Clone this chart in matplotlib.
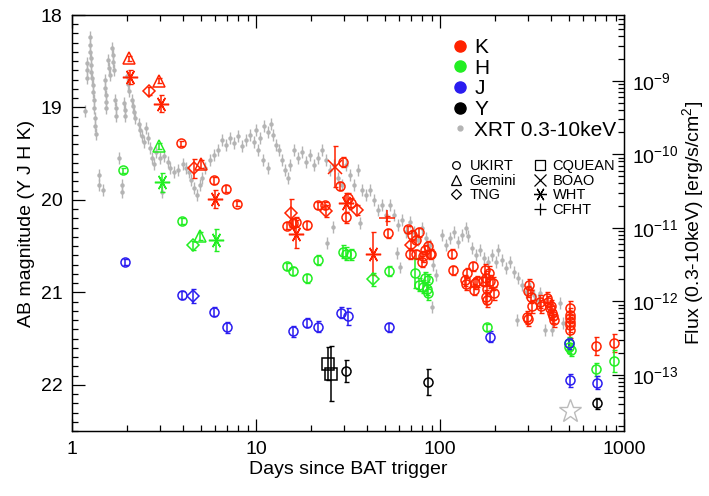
import numpy as np
import matplotlib
matplotlib.use("Agg")
import matplotlib.pyplot as plt
from matplotlib.lines import Line2D
from matplotlib.ticker import MultipleLocator, LogLocator, NullFormatter, FixedLocator

plt.rcParams['font.family'] = ['Liberation Sans', 'DejaVu Sans']
plt.rcParams['mathtext.default'] = 'regular'

# --- NIR photometry (days since trigger, AB mag, error, instrument) ---
K_days = [2.04, 2.07, 2.63, 2.97, 3.05, 3.93, 4.6, 5.0, 5.91, 6.01, 6.84, 7.91,
          14.8, 15.4, 15.8, 16.4, 16.4, 18.9, 21.6, 23.8, 24.1, 26.8, 28.5, 29.7,
          30.7, 30.9, 31.6, 32.7, 35.3, 43.4, 51.7, 52.0,
          67.3, 70.5, 77, 74, 70, 69, 73.9, 80, 86, 83, 88, 89.5, 81,
          116, 118, 137, 141, 139, 150.5, 154, 158, 153, 176, 178, 181, 178, 179,
          184, 187, 194, 197, 171,
          305, 300, 311, 318, 298, 302, 349, 352, 380, 388, 400, 408, 412, 415, 397,
          509, 509, 509, 509, 509, 509, 705, 886]
K_mag = [18.47, 18.67, 18.82, 18.71, 18.96, 19.39, 19.66, 19.61, 19.79, 19.99, 19.88, 20.04,
         20.28, 20.14, 20.25, 20.24, 20.37, 20.27, 20.06, 20.06, 20.12, 19.64, 19.85, 19.59,
         20.03, 20.19, 19.98, 20.03, 20.11, 20.58, 20.20, 20.36,
         20.32, 20.38, 20.35, 20.43, 20.49, 20.58, 20.59, 20.67, 20.50, 20.54, 20.59, 20.58, 20.61,
         20.58, 20.76, 20.87, 20.79, 20.91, 20.72, 20.90, 20.88, 20.97, 20.76, 20.85, 20.96, 21.05, 21.08,
         20.79, 20.88, 20.90, 21.01, 20.88,
         20.92, 20.99, 21.05, 21.15, 21.27, 21.29, 21.10, 21.15, 21.06, 21.10, 21.15, 21.22, 21.26, 21.30, 21.17,
         21.17, 21.25, 21.28, 21.35, 21.41, 21.32, 21.58, 21.55]
K_err = [0.03, 0.08, 0.04, 0.03, 0.09, 0.03, 0.10, 0.04, 0.04, 0.10, 0.04, 0.03,
         0.04, 0.15, 0.05, 0.05, 0.15, 0.04, 0.04, 0.04, 0.07, 0.22, 0.04, 0.05,
         0.10, 0.06, 0.05, 0.05, 0.05, 0.23, 0.03, 0.05,
         0.04, 0.05, 0.05, 0.05, 0.05, 0.06, 0.05, 0.06, 0.05, 0.05, 0.05, 0.05, 0.06,
         0.05, 0.05, 0.06, 0.05, 0.06, 0.05, 0.06, 0.06, 0.06, 0.07, 0.08, 0.08, 0.08, 0.08,
         0.07, 0.07, 0.07, 0.07, 0.05,
         0.06, 0.06, 0.07, 0.07, 0.07, 0.07, 0.07, 0.07, 0.06, 0.06, 0.07, 0.07, 0.07, 0.07, 0.07,
         0.08, 0.08, 0.08, 0.08, 0.08, 0.08, 0.10, 0.10]
K_inst = ['Gemini', 'WHT', 'TNG', 'Gemini', 'WHT', 'UKIRT', 'TNG', 'Gemini', 'UKIRT', 'WHT', 'UKIRT', 'UKIRT',
          'UKIRT', 'TNG', 'UKIRT', 'UKIRT', 'WHT', 'UKIRT', 'UKIRT', 'UKIRT', 'TNG', 'BOAO', 'UKIRT', 'UKIRT',
          'WHT', 'UKIRT', 'UKIRT', 'UKIRT', 'TNG', 'WHT', 'CFHT', 'UKIRT',
          'UKIRT', 'UKIRT', 'UKIRT', 'UKIRT', 'TNG', 'UKIRT', 'UKIRT', 'UKIRT', 'UKIRT', 'UKIRT', 'UKIRT', 'UKIRT', 'UKIRT',
          'UKIRT', 'UKIRT', 'UKIRT', 'UKIRT', 'UKIRT', 'UKIRT', 'UKIRT', 'UKIRT', 'UKIRT', 'UKIRT', 'UKIRT', 'UKIRT', 'UKIRT', 'UKIRT',
          'UKIRT', 'UKIRT', 'UKIRT', 'UKIRT', 'UKIRT',
          'UKIRT', 'UKIRT', 'UKIRT', 'UKIRT', 'UKIRT', 'UKIRT', 'UKIRT', 'UKIRT', 'UKIRT', 'UKIRT', 'UKIRT', 'UKIRT', 'UKIRT', 'UKIRT', 'UKIRT',
          'UKIRT', 'UKIRT', 'UKIRT', 'UKIRT', 'UKIRT', 'UKIRT', 'UKIRT', 'UKIRT']

H_days = [1.90, 2.98, 3.10, 3.96, 4.97, 4.56, 6.09, 14.8, 15.8, 18.9, 21.7, 29.8, 30.9, 32.7,
          43.3, 52.5, 73, 77, 83, 85.6, 84.5, 86.5, 81, 181, 505, 515, 505, 705, 886]
H_mag = [19.68, 19.42, 19.81, 20.23, 20.39, 20.49, 20.43, 20.72, 20.77, 20.85, 20.65, 20.56, 20.58, 20.59,
         20.86, 20.77, 20.79, 20.92, 20.85, 20.87, 20.96, 21.01, 20.94, 21.38, 21.55, 21.62, 21.59, 21.83, 21.74]
H_err = [0.03, 0.03, 0.10, 0.03, 0.04, 0.05, 0.12, 0.04, 0.04, 0.05, 0.05, 0.07, 0.07, 0.06,
         0.07, 0.05, 0.16, 0.07, 0.07, 0.07, 0.07, 0.07, 0.07, 0.04, 0.07, 0.07, 0.07, 0.07, 0.12]
H_inst = ['UKIRT', 'Gemini', 'WHT', 'UKIRT', 'Gemini', 'TNG', 'WHT', 'UKIRT', 'UKIRT', 'UKIRT', 'UKIRT',
          'UKIRT', 'UKIRT', 'UKIRT', 'TNG', 'UKIRT', 'UKIRT', 'UKIRT', 'UKIRT', 'UKIRT', 'UKIRT', 'UKIRT',
          'UKIRT', 'UKIRT', 'UKIRT', 'UKIRT', 'UKIRT', 'UKIRT', 'UKIRT']

J_days = [1.94, 3.96, 4.54, 5.94, 6.93, 15.8, 18.9, 21.7, 28.8, 31.7, 52.7, 186, 505, 509, 710]
J_mag = [20.67, 21.03, 21.04, 21.21, 21.38, 21.42, 21.33, 21.37, 21.22, 21.26, 21.38, 21.48, 21.55, 21.95, 21.98]
J_err = [0.03, 0.04, 0.08, 0.05, 0.06, 0.06, 0.05, 0.06, 0.06, 0.09, 0.05, 0.06, 0.06, 0.07, 0.07]
J_inst = ['UKIRT', 'UKIRT', 'TNG', 'UKIRT', 'UKIRT', 'UKIRT', 'UKIRT', 'UKIRT', 'UKIRT', 'UKIRT',
          'UKIRT', 'UKIRT', 'UKIRT', 'UKIRT', 'UKIRT']

Y_days = [24.7, 25.6, 30.8, 85.6, 710]
Y_mag = [21.77, 21.88, 21.85, 21.97, 22.20]
Y_err = [0.18, 0.30, 0.12, 0.14, 0.06]
Y_inst = ['CQUEAN', 'CQUEAN', 'UKIRT', 'UKIRT', 'UKIRT']

# late-time star symbol
star_day = [509]
star_mag = [22.28]

# --- Swift XRT 0.3-10 keV light curve (log10 days, log10 flux) ---
xrt_logt = [0.071, 0.082, 0.082, 0.082, 0.098, 0.098, 0.098, 0.103, 0.103, 0.103, 0.109,
            0.114, 0.114, 0.120, 0.120, 0.125, 0.125, 0.130, 0.147, 0.147, 0.168,
            0.179, 0.179, 0.185, 0.185, 0.185, 0.196, 0.201, 0.207, 0.217, 0.223, 0.223, 0.228,
            0.234, 0.239, 0.239, 0.255, 0.272, 0.272, 0.283, 0.288, 0.288, 0.299, 0.304, 0.310,
            0.326, 0.332, 0.337, 0.342, 0.364, 0.370, 0.380, 0.391,
            0.402, 0.413, 0.424, 0.435, 0.446, 0.457, 0.478, 0.500, 0.522, 0.533, 0.554, 0.576,
            0.603, 0.620, 0.636, 0.647, 0.663, 0.679, 0.696, 0.707, 0.489,
            0.723, 0.750, 0.772, 0.793, 0.815, 0.837, 0.859, 0.880, 0.902, 0.924, 0.946, 0.967, 0.989,
            1.000, 1.022, 1.043, 1.065, 1.082, 1.092, 1.109, 1.011, 1.038, 1.065,
            1.125, 1.141, 1.158, 1.174, 1.185, 1.207, 1.228, 1.250, 1.272, 1.293, 1.315, 1.337,
            1.359, 1.380, 1.402, 1.424, 1.446, 1.467, 1.489, 1.511, 1.533, 1.554, 1.576, 1.598,
            1.386, 1.418, 1.565, 1.620, 1.641, 1.663, 1.685, 1.707, 1.728, 1.750, 1.772, 1.793, 1.815,
            1.766, 1.783, 1.837, 1.859, 1.880, 1.902, 1.924, 1.946, 1.962, 1.978, 1.957,
            2.011, 2.033, 2.054, 2.076, 2.098, 2.120, 2.141, 2.152,
            2.174, 2.196, 2.217, 2.239, 2.261, 2.283, 2.304, 2.315, 2.337, 2.359, 2.380, 2.402,
            2.424, 2.446, 2.467, 2.489, 2.418, 2.511, 2.533, 2.543, 2.571, 2.609, 2.652, 2.668]
xrt_logf = [-9.41, -8.76, -8.85, -8.96, -8.41, -8.51, -8.61, -8.69, -8.79, -8.88, -8.96,
            -9.06, -9.15, -9.26, -9.37, -9.51, -9.62, -9.73, -10.28, -10.42, -10.49,
            -8.99, -9.10, -9.20, -9.29, -9.37, -8.72, -8.83, -8.92, -8.56, -8.65, -8.75, -8.85,
            -9.26, -9.37, -9.48, -10.05, -10.42, -10.51, -9.30, -9.40, -9.48, -8.94, -9.05, -9.14,
            -9.26, -9.34, -9.43, -9.51, -9.59, -9.67, -9.75, -9.83,
            -9.64, -9.78, -9.92, -10.05, -10.13, -9.97, -10.05, -10.02, -10.11, -10.19, -10.24, -10.22,
            -10.13, -10.19, -10.24, -10.35, -10.46, -10.56, -10.42, -10.32, -10.51,
            -10.19, -10.08, -10.01, -9.94, -9.81, -9.87, -9.78, -9.85, -9.75, -9.89, -9.81, -9.74, -9.83,
            -9.67, -9.78, -9.62, -9.70, -9.59, -9.74, -9.87, -9.94, -10.08, -10.19,
            -9.94, -10.08, -10.22, -10.32, -10.15, -9.94, -10.05, -9.97, -10.11, -10.01, -10.15, -10.05,
            -9.94, -10.08, -10.22, -10.15, -10.32, -10.42, -10.15, -10.28, -10.42, -10.22, -10.49, -10.56,
            -11.21, -10.99, -10.94, -10.49, -10.62, -10.76, -10.69, -10.83, -10.69, -10.83, -10.96, -10.90, -11.06,
            -11.34, -11.54, -10.92, -11.06, -11.17, -11.00, -11.14, -11.24, -11.51, -11.64, -12.08,
            -11.10, -11.24, -11.14, -11.06, -11.19, -11.10, -11.00, -11.11,
            -11.28, -11.37, -11.30, -11.41, -11.47, -11.37, -11.47, -11.30, -11.44, -11.55, -11.47, -11.60,
            -11.68, -11.78, -11.88, -11.82, -12.26, -11.92, -11.98, -11.89, -12.39, -12.39, -12.02, -12.30]
xrt_err_dex = 0.08

band_colors = {'K': '#ff2200', 'H': '#22ee22', 'J': '#2a1cf0', 'Y': 'black'}
inst_markers = {'UKIRT': ('o', 6.5), 'Gemini': ('^', 9), 'TNG': ('D', 6.5), 'CQUEAN': ('s', 9),
                'BOAO': ('x', 10), 'WHT': ((6, 2, 90), 11), 'CFHT': ('+', 11)}

fig = plt.figure(figsize=(7.09, 4.96), dpi=100)
ax = fig.add_axes([72 / 709, 1 - 431 / 496, 552 / 709, 416 / 496])
ax2 = ax.twinx()

# XRT on the flux axis (behind the photometry)
xrt_t = 10 ** np.array(xrt_logt)
xrt_f = 10 ** np.array(xrt_logf)
xrt_lo = xrt_f * (1 - 10 ** (-xrt_err_dex))
xrt_hi = xrt_f * (10 ** xrt_err_dex - 1)
ax2.errorbar(xrt_t, xrt_f, yerr=[xrt_lo, xrt_hi], fmt='o', ms=3.2, color='#b4b4b4',
             mec='none', elinewidth=1.0, capsize=0, zorder=1)
ax2.set_yscale('log')
ax2.set_ylim(10 ** -13.766, 10 ** -8.106)

ax.set_zorder(ax2.get_zorder() + 1)
ax.patch.set_visible(False)

bands = [('K', K_days, K_mag, K_err, K_inst), ('H', H_days, H_mag, H_err, H_inst),
         ('J', J_days, J_mag, J_err, J_inst), ('Y', Y_days, Y_mag, Y_err, Y_inst)]
for name, d, m, e, inst in bands:
    d = np.array(d); m = np.array(m); e = np.array(e); inst = np.array(inst)
    col = band_colors[name]
    for key, (mk, ms) in inst_markers.items():
        sel = inst == key
        if not sel.any():
            continue
        ax.errorbar(d[sel], m[sel], yerr=e[sel], fmt='none', ecolor=col,
                    elinewidth=1.1, capsize=1.8, capthick=1.0, zorder=3)
        ax.plot(d[sel], m[sel], linestyle='none', marker=mk, ms=ms, mfc='none',
                mec=col, mew=1.1, zorder=4)

ax.plot(star_day, star_mag, linestyle='none', marker='*', ms=17, mfc='none',
        mec='#bbbbbb', mew=1.0, zorder=4)

ax.set_xscale('log')
ax.set_xlim(1, 1000)
ax.set_ylim(22.5, 18.0)
ax.yaxis.set_major_locator(MultipleLocator(1))
ax.yaxis.set_minor_locator(MultipleLocator(0.1))
ax.set_xticks([1, 10, 100, 1000])
ax.set_xticklabels(['1', '10', '100', '1000'])

ax.tick_params(which='both', direction='in', top=True, right=False, labelsize=14, width=0.9)
ax.tick_params(which='major', length=9, pad=7)
ax.tick_params(which='minor', length=4.5)
ax2.tick_params(which='both', direction='in', labelsize=14, width=0.9)
ax2.tick_params(which='major', length=9, pad=6)
ax2.tick_params(which='minor', length=4.5)
ax2.yaxis.set_major_locator(FixedLocator([1e-13, 1e-12, 1e-11, 1e-10, 1e-9]))
ax2.yaxis.set_minor_locator(LogLocator(base=10, subs=np.arange(2, 10), numticks=20))
ax2.yaxis.set_minor_formatter(NullFormatter())
ax2.set_yticklabels(['10$^{-13}$', '10$^{-12}$', '10$^{-11}$', '10$^{-10}$', '10$^{-9}$'])

for sp in ax.spines.values():
    sp.set_linewidth(0.9)
for sp in ax2.spines.values():
    sp.set_linewidth(0.9)

ax.set_xlabel('Days since BAT trigger', fontsize=14, labelpad=2)
ax.set_ylabel('AB magnitude (Y J H K)', fontsize=14, labelpad=4)
ax2.set_ylabel('Flux (0.3-10keV) [erg/s/cm$^2$]', fontsize=14, labelpad=1)

# band legend
band_handles = [Line2D([], [], ls='none', marker='o', ms=8, color=band_colors[b]) for b in 'KHJY']
band_handles.append(Line2D([], [], ls='none', marker='o', ms=3.5, color='#b4b4b4'))
leg1 = ax.legend(band_handles, ['K', 'H', 'J', 'Y', 'XRT 0.3-10keV'], loc='upper left',
                 bbox_to_anchor=(0.665, 0.965), frameon=False, fontsize=15,
                 handletextpad=0.1, labelspacing=0.08, handlelength=1.2, borderaxespad=0)
ax.add_artist(leg1)

# instrument legend
inst_names = ['UKIRT', 'Gemini', 'TNG', '', 'CQUEAN', 'BOAO', 'WHT', 'CFHT']
inst_handles = []
for nm in inst_names:
    if nm:
        mk, ms = inst_markers[nm]
        inst_handles.append(Line2D([], [], ls='none', marker=mk, ms=ms * 0.85, mfc='none',
                                   mec='black', mew=0.9))
    else:
        inst_handles.append(Line2D([], [], ls='none'))
ax.legend(inst_handles, inst_names, loc='upper left', bbox_to_anchor=(0.67, 0.668), ncol=2,
          frameon=False, fontsize=10.5, handletextpad=0.3, labelspacing=0.05,
          handlelength=1.2, columnspacing=1.0, borderaxespad=0)

fig.savefig('out.png', dpi=100)
